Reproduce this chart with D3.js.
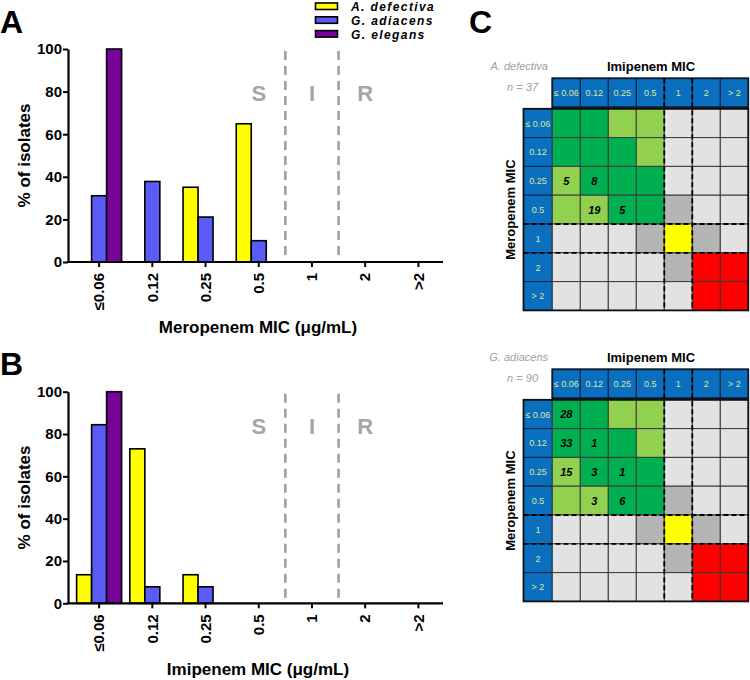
<!DOCTYPE html>
<html><head><meta charset="utf-8">
<script src="https://cdn.jsdelivr.net/npm/d3@7"></script>
<style>
body{margin:0;background:#fff;}
svg{display:block;font-family:"Liberation Sans",Arial,sans-serif;}
</style>
</head><body>
<svg id="chart" width="750" height="680"></svg>
<script>
// ---------- DATA ----------
const categories = ["≤0.06", "0.12", "0.25", "0.5", "1", "2", ">2"];
const species = ["A. defectiva", "G. adiacens", "G. elegans"];
const speciesColors = ["#ffff00", "#5b5bf7", "#78039b"];
const yTicks = [0, 20, 40, 60, 80, 100];
const zones = ["S", "I", "R"];

// Panel A: Meropenem MIC, % of isolates
const meroDefectiva = [0, 0, 35.1, 64.9, 0, 0, 0];
const meroAdiacens  = [31.1, 37.8, 21.1, 10.0, 0, 0, 0];
const meroElegans   = [100, 0, 0, 0, 0, 0, 0];
// Panel B: Imipenem MIC, % of isolates
const imiDefectiva  = [13.5, 73.0, 13.5, 0, 0, 0, 0];
const imiAdiacens   = [84.4, 7.8, 7.8, 0, 0, 0, 0];
const imiElegans    = [100, 0, 0, 0, 0, 0, 0];

// Panel C: grid labels, agreement zones, counts
const gridLabels = ["≤ 0.06", "0.12", "0.25", "0.5", "1", "2", "> 2"];
// rows = Meropenem MIC, columns = Imipenem MIC
const zoneMatrix = [
  ["DG","DG","LG","LG","L","L","L"],
  ["DG","DG","DG","LG","L","L","L"],
  ["LG","DG","DG","DG","L","L","L"],
  ["LG","LG","DG","DG","M","L","L"],
  ["L","L","L","M","Y","M","L"],
  ["L","L","L","L","M","R","R"],
  ["L","L","L","L","L","R","R"]
];
const zoneColors = {DG:"#00b050", LG:"#92d050", L:"#e2e2e2", M:"#b5b5b5", Y:"#ffff00", R:"#ff0000"};
// [row, col, count]
const countsDefectiva = [[2,0,5],[2,1,8],[3,1,19],[3,2,5]];
const countsAdiacens  = [[0,0,28],[1,0,33],[1,1,1],[2,0,15],[2,1,3],[2,2,1],[3,1,3],[3,2,6]];
const nDefectiva = 37, nAdiacens = 90;

// ---------- DRAW ----------
const svg = d3.select("#chart");

function drawBars(series, yTop, yBottom, xTitle, titleY, sirY) {
  const g = svg.append("g");
  const x = d3.scaleBand().domain(categories).range([72.5, 445]);
  const sub = d3.scaleBand().domain(species).range([-22.5, 22.5]);
  const y = d3.scaleLinear().domain([0, 100]).range([yBottom, yTop]);

  // dashed breakpoints
  ["1", "2"].forEach(c => {
    g.append("line").attr("x1", x(c)).attr("x2", x(c))
      .attr("y1", y(100) + 2).attr("y2", yBottom)
      .attr("stroke", "#a0a0a0").attr("stroke-width", 2.6).attr("stroke-dasharray", "9,6");
  });
  // S I R
  const zoneCats = ["0.5", "1", "2"];
  zones.forEach((z, i) => {
    g.append("text").attr("x", x(zoneCats[i]) + x.bandwidth() / 2).attr("y", sirY)
      .attr("text-anchor", "middle").attr("font-size", 22).attr("font-weight", "bold")
      .attr("fill", "#a6a6a6").text(z);
  });

  // bars
  series.forEach((vals, si) => {
    g.selectAll(null).data(vals.map((v, i) => ({v, c: categories[i]})).filter(d => d.v > 0))
      .enter().append("rect")
      .attr("x", d => x(d.c) + x.bandwidth() / 2 + sub(species[si]))
      .attr("width", sub.bandwidth())
      .attr("y", d => y(d.v))
      .attr("height", d => yBottom - y(d.v))
      .attr("fill", speciesColors[si])
      .attr("stroke", "#000").attr("stroke-width", 1.6);
  });

  // y axis
  const ya = g.append("g").attr("transform", "translate(68,0)")
    .call(d3.axisLeft(y).tickValues(yTicks).tickSize(5).tickSizeOuter(0).tickPadding(1));
  ya.select(".domain").attr("stroke-width", 2.2);
  ya.selectAll(".tick line").attr("stroke-width", 2);
  ya.selectAll("text").attr("font-size", 15).attr("font-weight", "bold").attr("fill", "#000")
    .attr("font-family", "Liberation Sans, Arial, sans-serif");

  // x axis
  const xa = g.append("g").attr("transform", `translate(0,${yBottom})`)
    .call(d3.axisBottom(x).tickSize(5).tickSizeOuter(0));
  xa.select(".domain").remove();
  xa.append("line").attr("x1", 67).attr("x2", 443).attr("stroke", "#000").attr("stroke-width", 2.2);
  xa.selectAll(".tick line").attr("stroke-width", 2);
  xa.selectAll(".tick text")
    .attr("font-size", 15).attr("font-weight", "bold").attr("fill", "#000")
    .attr("font-family", "Liberation Sans, Arial, sans-serif")
    .attr("transform", "rotate(-90)")
    .attr("text-anchor", "end")
    .attr("x", -11).attr("y", 0).attr("dy", "0.35em");

  // y title
  g.append("text").attr("transform", `translate(30,${(yTop + yBottom) / 2}) rotate(-90)`)
    .attr("text-anchor", "middle").attr("font-size", 17).attr("font-weight", "bold")
    .text("% of isolates");
  // x title
  g.append("text").attr("x", 258).attr("y", titleY).attr("text-anchor", "middle")
    .attr("font-size", 17).attr("font-weight", "bold").text(xTitle);
}

drawBars([meroDefectiva, meroAdiacens, meroElegans], 49, 262, "Meropenem MIC (μg/mL)", 333, 100.5);
drawBars([imiDefectiva, imiAdiacens, imiElegans], 391.7, 603.3, "Imipenem MIC (μg/mL)", 675, 434);

// panel letters
[["A", 0, 33], ["B", 0, 375], ["C", 469, 33]].forEach(([t, lx, ly]) => {
  svg.append("text").attr("x", lx).attr("y", ly).attr("font-size", 32).attr("font-weight", "bold").text(t);
});

// legend
const leg = svg.append("g");
species.forEach((s, i) => {
  leg.append("rect").attr("x", 315.5).attr("y", 3 + i * 13.8).attr("width", 22).attr("height", 6.5)
    .attr("fill", speciesColors[i]).attr("stroke", "#000").attr("stroke-width", 1.6);
  leg.append("text").attr("x", 351).attr("y", 11 + i * 13.8).attr("font-size", 12)
    .attr("font-weight", "bold").attr("font-style", "italic").attr("letter-spacing", 1.4).text(s);
});

// heat grids
function drawGrid(top, name, n, counts) {
  const g = svg.append("g");
  const headerH = 29, gap = 1.5;
  const rowsTop = top + headerH + gap, rowsBottom = rowsTop + 7 * 28.8;
  const colX = d3.scaleBand().domain(d3.range(7)).range([552.3, 748.3]);
  const rowY = d3.scaleBand().domain(d3.range(7)).range([rowsTop, rowsBottom]);
  const left = 523.5;

  // title texts
  g.append("text").attr("x", 651).attr("y", top - 7.5).attr("text-anchor", "middle")
    .attr("font-size", 13).attr("font-weight", "bold").text("Imipenem MIC");
  g.append("text").attr("x", 548).attr("y", top - 8).attr("text-anchor", "end")
    .attr("font-size", 11).attr("font-style", "italic").attr("fill", "#a0a0a0").text(name);
  g.append("text").attr("x", 538).attr("y", top + 13).attr("text-anchor", "end")
    .attr("font-size", 11).attr("font-style", "italic").attr("fill", "#a0a0a0").text(`n = ${n}`);
  g.append("text").attr("transform", `translate(515,${(rowsTop + rowsBottom) / 2}) rotate(-90)`)
    .attr("text-anchor", "middle").attr("font-size", 13).attr("font-weight", "bold").text("Meropenem MIC");

  // header row
  g.selectAll(null).data(gridLabels).enter().append("rect")
    .attr("x", (d, i) => colX(i)).attr("y", top).attr("width", colX.bandwidth()).attr("height", headerH)
    .attr("fill", "#0b6fbf").attr("stroke", "#10213a").attr("stroke-width", 1);
  g.selectAll(null).data(gridLabels).enter().append("text")
    .attr("x", (d, i) => colX(i) + colX.bandwidth() / 2).attr("y", top + headerH / 2 + 3.3)
    .attr("text-anchor", "middle").attr("font-size", 9).attr("fill", "#d8e89a").text(d => d);
  g.append("rect").attr("x", 552.3).attr("y", top).attr("width", 196).attr("height", headerH)
    .attr("fill", "none").attr("stroke", "#0d1a2e").attr("stroke-width", 1.8);

  // row header
  g.selectAll(null).data(gridLabels).enter().append("rect")
    .attr("x", left).attr("y", (d, i) => rowY(i)).attr("width", 552.3 - left).attr("height", rowY.bandwidth())
    .attr("fill", "#0b6fbf").attr("stroke", "#10213a").attr("stroke-width", 1);
  g.selectAll(null).data(gridLabels).enter().append("text")
    .attr("x", left + (552.3 - left) / 2).attr("y", (d, i) => rowY(i) + rowY.bandwidth() / 2 + 3.3)
    .attr("text-anchor", "middle").attr("font-size", 9).attr("fill", "#d8e89a").text(d => d);

  // cells
  const cells = [];
  zoneMatrix.forEach((row, r) => row.forEach((z, c) => cells.push({r, c, z})));
  g.selectAll(null).data(cells).enter().append("rect")
    .attr("x", d => colX(d.c)).attr("y", d => rowY(d.r))
    .attr("width", colX.bandwidth()).attr("height", rowY.bandwidth())
    .attr("fill", d => zoneColors[d.z]).attr("stroke", "#3a3a3a").attr("stroke-width", 1);

  // counts
  g.selectAll(null).data(counts).enter().append("text")
    .attr("x", d => colX(d[1]) + colX.bandwidth() / 2).attr("y", d => rowY(d[0]) + rowY.bandwidth() / 2 + 4)
    .attr("text-anchor", "middle").attr("font-size", 11).attr("font-weight", "bold").attr("font-style", "italic")
    .text(d => d[2]);

  // outer frame
  g.append("rect").attr("x", left).attr("y", rowsTop).attr("width", 748.3 - left).attr("height", rowsBottom - rowsTop)
    .attr("fill", "none").attr("stroke", "#111").attr("stroke-width", 1.8);

  // dashed zone separators
  [4, 5].forEach(c => {
    g.append("line").attr("x1", colX(c)).attr("x2", colX(c)).attr("y1", top).attr("y2", rowsBottom)
      .attr("stroke", "#000").attr("stroke-width", 1.8).attr("stroke-dasharray", "5,3");
  });
  [4, 5].forEach(r => {
    g.append("line").attr("x1", left).attr("x2", 749).attr("y1", rowY(r)).attr("y2", rowY(r))
      .attr("stroke", "#000").attr("stroke-width", 1.8).attr("stroke-dasharray", "5,3");
  });
}

drawGrid(78.3, "A. defectiva", nDefectiva, countsDefectiva);
drawGrid(369.3, "G. adiacens", nAdiacens, countsAdiacens);
</script>
</body></html>
